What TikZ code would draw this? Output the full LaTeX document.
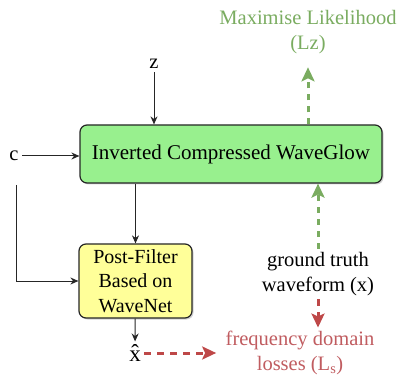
\documentclass[tikz,border=0pt]{standalone}
\usepackage{fontspec}
\setmainfont{Liberation Serif}
\newfontfamily\diagfont{Liberation Serif}
\usetikzlibrary{arrows.meta,shadows}

\definecolor{glowgreen}{RGB}{152,240,142}
\definecolor{filteryellow}{RGB}{255,255,153}
\definecolor{likegreen}{RGB}{122,172,96}
\definecolor{lossred}{RGB}{190,72,72}
\definecolor{losstext}{RGB}{192,92,96}

\begin{document}
\begin{tikzpicture}[
  x=1pt, y=-1pt,
  every node/.style = {font=\diagfont\fontsize{20.5}{25}\selectfont, align=center},
  block/.style = {draw=black!85, line width=1.2pt, rounded corners=7pt, inner sep=0pt,
                  drop shadow={shadow xshift=1.5pt, shadow yshift=-1.5pt, opacity=0.35}},
  flow/.style = {-{Stealth[length=8pt,width=7pt]}, line width=1pt, black!85},
  likeline/.style = {likegreen, line width=3pt, dash pattern=on 6pt off 6pt,
                     -{Stealth[length=14pt,width=13pt,inset=3pt]}},
  lossline/.style = {lossred, line width=3pt, dash pattern=on 7pt off 6pt,
                     -{Stealth[length=14pt,width=13pt,inset=3pt]}}
]
\useasboundingbox (0,0) rectangle (402,377);

\node[block, fill=glowgreen, minimum width=302pt, minimum height=58pt,
      font=\diagfont\fontsize{21}{25}\selectfont] (glow) at (231,154) {Inverted Compressed WaveGlow};
\node[block, fill=filteryellow, minimum width=113pt, minimum height=74pt,
      font=\diagfont\fontsize{20}{24.5}\selectfont] (post) at (135.5,281) {Post-Filter\\Based on\\WaveNet};

\node (z) at (154,64) {z};
\node (c) at (14,156) {c};
\node[font=\diagfont\fontsize{23}{25}\selectfont] (xhat) at (135,353) {\^{x}};
\node[text=likegreen] (lz) at (308,32) {Maximise Likelihood\\(Lz)};
\node (gt) at (318,274) {ground truth\\waveform (x)};
\node[text=losstext] (fd) at (300,353) {frequency domain\\losses (L\textsubscript{s})};
\coordinate (cbend) at (16.5,185);

% black signal path
\draw[flow] (z) -- (z |- glow.north);
\draw[flow] (c) -- (c -| glow.west);
\draw[flow] (cbend) |- (post.west);
\draw[flow] (glow.south -| post) -- (post.north);
\draw[flow] (post) -- (xhat);

% losses
\draw[likeline, shorten >=10pt] (glow.north -| lz) -- (lz.south);
\draw[likeline] (gt.north) -- (gt.north |- glow.south);
\draw[lossline] (gt.south) -- (gt.south |- fd.north);
\draw[lossline, shorten >=6pt] (xhat) -- (fd.west |- xhat);
\end{tikzpicture}
\end{document}
